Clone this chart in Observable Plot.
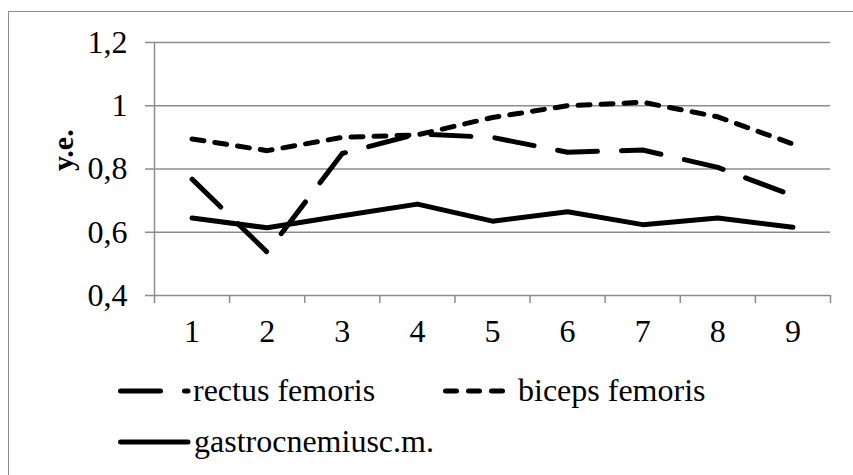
<!DOCTYPE html>
<html><head><meta charset="utf-8">
<script src="https://cdn.jsdelivr.net/npm/d3@7"></script>
<script src="https://cdn.jsdelivr.net/npm/@observablehq/plot@0.6"></script>
<style>
body{margin:0;background:#fff;}
#wrap{position:relative;width:853px;height:475px;overflow:hidden;font-family:"Liberation Serif","Times New Roman",serif;background:#fff;}
#frame{position:absolute;left:8px;top:11px;width:900px;height:600px;border-left:1.5px solid #8c8c8c;border-top:1.5px solid #8c8c8c;}
#chart{position:absolute;left:0;top:0;}
#legend{position:absolute;left:0;top:360px;}
</style></head>
<body><div id="wrap"><div id="frame"></div><div id="chart"></div><svg id="legend" width="853" height="115"></svg></div>
<script>
const categories = [1,2,3,4,5,6,7,8,9];
const rectus = [0.768,0.537,0.849,0.911,0.900,0.853,0.860,0.805,0.716];
const biceps = [0.895,0.858,0.900,0.908,0.963,1.000,1.011,0.965,0.879];
const gastro = [0.645,0.614,0.652,0.689,0.635,0.665,0.624,0.645,0.616];
const yTicks = [0.4,0.6,0.8,1,1.2];
const seriesNames = ["rectus femoris","biceps femoris","gastrocnemiusc.m."];
const yLabel = "y.e.";

const rows = s => categories.map((c,i)=>({x:c, y:s[i]}));
const boundaries = d3.range(0.5, 9.6, 1);
const fmt = v => String(v).replace(".", ",");
const grey = "#8c8c8c";
const serif = "'Liberation Serif', 'Times New Roman', serif";
const lineOpts = {x:"x", y:"y", stroke:"#000", strokeWidth:5, strokeLinecap:"round", strokeLinejoin:"round", curve:"linear"};

const chart = Plot.plot({
  width: 853, height: 360,
  marginLeft: 154, marginRight: 23, marginTop: 42, marginBottom: 65,
  style: {fontFamily: serif, fontSize: "32px", color: "#000", background: "transparent"},
  x: {type:"linear", domain:[0.5, 9.5]},
  y: {domain:[0.4,1.2]},
  marks: [
    Plot.gridY(yTicks, {stroke:grey, strokeOpacity:1, strokeWidth:1.5}),
    Plot.ruleX([0.5], {stroke:grey, strokeWidth:1.5}),
    Plot.axisY(yTicks, {tickSize:9, tickPadding:18, tickFormat: fmt, stroke:grey, strokeWidth:1.5, label:null, fontSize:32}),
    Plot.axisX(boundaries, {tickSize:8, fill:"none", stroke:grey, strokeWidth:1.5, label:null}),
    Plot.axisX(categories, {tickSize:0, tickPadding:24, label:null, fontSize:32}),
    Plot.text([yLabel], {frameAnchor:"left", dx:-91, dy:2, rotate:-90, fontWeight:"bold", fontSize:30, fill:"#000"}),
    Plot.line(rows(biceps), {...lineOpts, strokeDasharray:"12,11"}),
    Plot.line(rows(rectus), {...lineOpts, strokeDasharray:"40,24"}),
    Plot.line(rows(gastro), lineOpts)
  ]
});
document.getElementById("chart").appendChild(chart);

// legend
const lg = d3.select("#legend");
const items = [
  {name: seriesNames[0], x1:120.5, x2:188, y:31, dash:"40,24", tx:193},
  {name: seriesNames[1], x1:445.5, x2:503, y:31, dash:"11,12", tx:518},
  {name: seriesNames[2], x1:120.5, x2:188, y:82, dash:null, tx:194}
];
for (const it of items) {
  lg.append("line").attr("x1", it.x1).attr("x2", it.x2).attr("y1", it.y).attr("y2", it.y)
    .attr("stroke", "#000").attr("stroke-width", 5).attr("stroke-linecap", "round")
    .attr("stroke-dasharray", it.dash);
  lg.append("text").attr("x", it.tx).attr("y", it.y).attr("dy", "0.32em")
    .attr("font-family", serif).attr("font-size", 32)
    .attr("fill", "#000").text(it.name);
}
</script>
</body></html>
